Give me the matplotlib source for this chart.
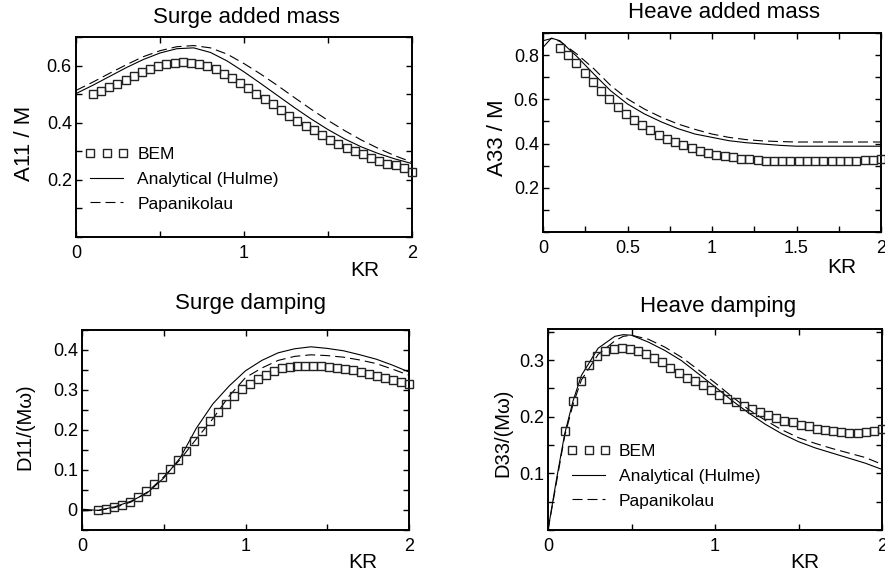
import numpy as np
import matplotlib.pyplot as plt
from matplotlib.ticker import MultipleLocator, FixedLocator, FormatStrFormatter

plt.rcParams['font.family'] = ['Liberation Sans', 'DejaVu Sans']

# ── BEM results (same KR grid in all four panels) ───────────────
kr_bem = np.linspace(0.1, 2.0, 40)

a11_bem = [0.502, 0.512, 0.525, 0.537, 0.551, 0.562, 0.576, 0.589, 0.600, 0.607,
           0.610, 0.611, 0.610, 0.607, 0.599, 0.587, 0.572, 0.555, 0.539, 0.520,
           0.502, 0.483, 0.464, 0.443, 0.425, 0.406, 0.390, 0.373, 0.357, 0.341,
           0.327, 0.313, 0.301, 0.289, 0.278, 0.266, 0.257, 0.251, 0.242, 0.229]

a33_bem = [0.832, 0.799, 0.764, 0.719, 0.678, 0.636, 0.600, 0.567, 0.534, 0.507,
           0.484, 0.461, 0.440, 0.422, 0.407, 0.392, 0.380, 0.368, 0.359, 0.350,
           0.344, 0.338, 0.332, 0.329, 0.326, 0.323, 0.321, 0.320, 0.320, 0.320,
           0.320, 0.320, 0.320, 0.320, 0.321, 0.322, 0.323, 0.325, 0.327, 0.328]

d11_bem = [0.000, 0.003, 0.008, 0.013, 0.021, 0.033, 0.048, 0.064, 0.083, 0.103,
           0.125, 0.148, 0.173, 0.198, 0.223, 0.244, 0.265, 0.286, 0.303, 0.316,
           0.328, 0.338, 0.348, 0.354, 0.358, 0.360, 0.361, 0.361, 0.359, 0.358,
           0.356, 0.353, 0.349, 0.344, 0.341, 0.334, 0.329, 0.324, 0.319, 0.314]

d33_bem = [0.175, 0.227, 0.264, 0.291, 0.307, 0.316, 0.320, 0.322, 0.320, 0.316,
           0.310, 0.304, 0.297, 0.287, 0.278, 0.268, 0.263, 0.256, 0.247, 0.239,
           0.232, 0.226, 0.219, 0.213, 0.208, 0.203, 0.198, 0.193, 0.190, 0.186,
           0.183, 0.179, 0.177, 0.174, 0.173, 0.172, 0.172, 0.173, 0.174, 0.178]

# ── Analytical (Hulme) and Papanikolau curves ───────────────────
kr_a11 = [0.0, 0.1, 0.2, 0.3, 0.4, 0.5, 0.6, 0.7, 0.8, 0.9, 1.0,
          1.1, 1.2, 1.3, 1.4, 1.5, 1.6, 1.7, 1.8, 1.9, 2.0]
a11_hulme = [0.502, 0.531, 0.562, 0.593, 0.621, 0.644, 0.659, 0.662, 0.646, 0.616, 0.578,
             0.537, 0.495, 0.453, 0.413, 0.376, 0.343, 0.315, 0.292, 0.273, 0.257]
a11_papa = [0.513, 0.542, 0.573, 0.603, 0.631, 0.652, 0.666, 0.670, 0.662, 0.640, 0.607,
            0.570, 0.530, 0.488, 0.447, 0.408, 0.372, 0.339, 0.310, 0.284, 0.262]

kr_a33 = [0.0, 0.05, 0.1, 0.2, 0.3, 0.4, 0.5, 0.6, 0.7, 0.8, 0.9,
          1.0, 1.1, 1.2, 1.3, 1.4, 1.5, 1.6, 1.7, 1.8, 1.9, 2.0]
a33_hulme = [0.835, 0.877, 0.865, 0.794, 0.715, 0.639, 0.579, 0.534, 0.498, 0.467, 0.443,
             0.428, 0.413, 0.404, 0.398, 0.392, 0.388, 0.388, 0.388, 0.388, 0.388, 0.388]
a33_papa = [0.865, 0.875, 0.862, 0.805, 0.739, 0.663, 0.602, 0.556, 0.519, 0.488, 0.464,
            0.443, 0.428, 0.418, 0.412, 0.409, 0.407, 0.407, 0.407, 0.407, 0.407, 0.407]

kr_d11 = kr_a11
d11_hulme = [0.002, -0.001, 0.008, 0.022, 0.043, 0.080, 0.130, 0.205, 0.265, 0.310, 0.348,
             0.374, 0.393, 0.403, 0.408, 0.404, 0.398, 0.388, 0.377, 0.362, 0.345]
d11_papa = [-0.002, -0.001, 0.006, 0.020, 0.045, 0.083, 0.126, 0.178, 0.228, 0.285, 0.331,
            0.355, 0.374, 0.384, 0.388, 0.386, 0.382, 0.375, 0.366, 0.352, 0.337]

kr_d33 = [0.0, 0.05, 0.1, 0.15, 0.2, 0.3, 0.4, 0.45, 0.5, 0.6, 0.7, 0.8,
          0.9, 1.0, 1.1, 1.2, 1.3, 1.4, 1.5, 1.6, 1.7, 1.8, 1.9, 2.0]
d33_hulme = [0.0, 0.088, 0.170, 0.228, 0.273, 0.321, 0.342, 0.345, 0.344, 0.332, 0.317, 0.299,
             0.276, 0.253, 0.229, 0.207, 0.187, 0.170, 0.156, 0.145, 0.136, 0.127, 0.118, 0.107]
d33_papa = [0.0, 0.083, 0.166, 0.222, 0.265, 0.310, 0.334, 0.342, 0.344, 0.337, 0.323, 0.305,
            0.283, 0.260, 0.236, 0.213, 0.194, 0.177, 0.163, 0.153, 0.144, 0.136, 0.128, 0.116]

# ── Figure ──────────────────────────────────────────────────────
W, H = 885, 578
fig = plt.figure(figsize=(W / 100, H / 100), dpi=100)


def px_axes(x0, x1, y0, y1):
    return fig.add_axes([x0 / W, 1 - y1 / H, (x1 - x0) / W, (y1 - y0) / H])


panels = [
    dict(rect=(76, 412, 37, 237), kr=kr_a11, hul=a11_hulme, pap=a11_papa, bem=a11_bem,
         title='Surge added mass', tpos=(0.506, 1.10), ylab='A11 / M', yfs=16,
         ylpos=(-0.152, 0.47), krpos=(0.86, -0.165), ylim=(0, 0.7),
         ymaj=[0.2, 0.4, 0.6], ymin=0.1, xmaj=[0, 1, 2], xmin=0.5,
         legend=(0.027, 0.45)),
    dict(rect=(543, 881, 33, 232), kr=kr_a33, hul=a33_hulme, pap=a33_papa, bem=a33_bem,
         title='Heave added mass', tpos=(0.535, 1.105), ylab='A33 / M', yfs=16,
         ylpos=(-0.136, 0.472), krpos=(0.885, -0.176), ylim=(0, 0.9),
         ymaj=[0.2, 0.4, 0.6, 0.8], ymin=0.1, xmaj=[0, 0.5, 1, 1.5, 2], xmin=0.25,
         legend=None),
    dict(rect=(82, 409, 330, 530), kr=kr_d11, hul=d11_hulme, pap=d11_papa, bem=d11_bem,
         title='Surge damping', tpos=(0.514, 1.135), ylab='D11/(M\u03c9)', yfs=14.5,
         ylpos=(-0.174, 0.515), krpos=(0.859, -0.16), ylim=(-0.05, 0.45),
         ymaj=[0, 0.1, 0.2, 0.3, 0.4], ymin=0.05, xmaj=[0, 1, 2], xmin=0.5,
         legend=None),
    dict(rect=(548, 882, 329, 530), kr=kr_d33, hul=d33_hulme, pap=d33_papa, bem=d33_bem,
         title='Heave damping', tpos=(0.509, 1.11), ylab='D33/(M\u03c9)', yfs=14.5,
         ylpos=(-0.135, 0.483), krpos=(0.77, -0.164), ylim=(0, 0.355),
         ymaj=[0.1, 0.2, 0.3], ymin=0.05, xmaj=[0, 1, 2], xmin=0.5,
         legend=(0.057, 0.428)),
]

for p in panels:
    ax = px_axes(*p['rect'])
    h_line, = ax.plot(p['kr'], p['hul'], color='black', lw=0.8, ls='-',
                      label='Analytical (Hulme)')
    p_line, = ax.plot(p['kr'], p['pap'], color='black', lw=0.8, ls=(0, (9, 4.5)),
                      label='Papanikolau')
    b_mark, = ax.plot(kr_bem, p['bem'], ls='none', marker='s', ms=6.3,
                      mfc='none', mec='#222222', mew=1.0, label='BEM',
                      clip_on=False, zorder=4)

    ax.set_xlim(0, 2)
    ax.set_ylim(*p['ylim'])
    ax.xaxis.set_major_locator(FixedLocator(p['xmaj']))
    ax.xaxis.set_minor_locator(MultipleLocator(p['xmin']))
    ax.xaxis.set_major_formatter(FormatStrFormatter('%g'))
    ax.yaxis.set_major_locator(FixedLocator(p['ymaj']))
    ax.yaxis.set_minor_locator(MultipleLocator(p['ymin']))
    ax.yaxis.set_major_formatter(FormatStrFormatter('%g'))
    ax.tick_params(which='both', direction='in', top=True, right=True,
                   length=4, width=1.0, labelsize=13)
    ax.tick_params(axis='x', pad=6)
    ax.tick_params(axis='y', pad=3)
    for s in ax.spines.values():
        s.set_linewidth(1.4)

    ax.set_title(p['title'], fontsize=16, x=p['tpos'][0], y=p['tpos'][1],
                 pad=0, va='center')
    ax.set_ylabel(p['ylab'], fontsize=p['yfs'], va='center')
    ax.yaxis.set_label_coords(*p['ylpos'])
    ax.set_xlabel('KR', fontsize=15, va='center')
    ax.xaxis.set_label_coords(*p['krpos'])

    if p['legend'] is not None:
        ax.legend(handles=[b_mark, h_line, p_line], loc='upper left',
                  bbox_to_anchor=p['legend'], frameon=False, fontsize=12.5,
                  numpoints=3, handlelength=2.5, handletextpad=0.5,
                  labelspacing=0.55, borderpad=0, borderaxespad=0)

fig.savefig('out.png', dpi=100, facecolor='white')
